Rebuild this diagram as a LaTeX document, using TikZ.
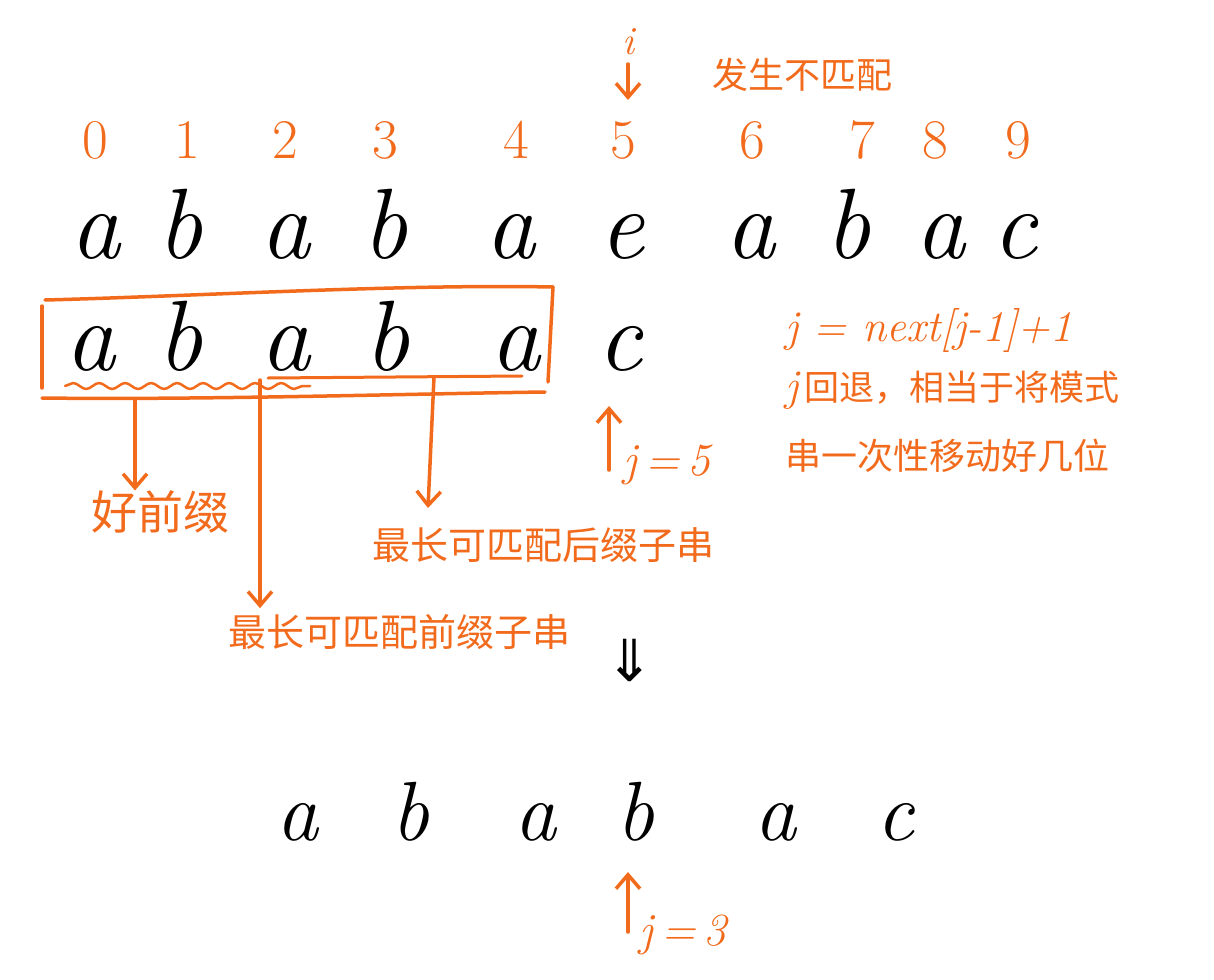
\documentclass[tikz,border=0pt]{standalone}
\usepackage{fontspec}
\newfontfamily\cjk{Noto Sans CJK SC}
\newfontfamily\dejavu{DejaVu Sans}
\usetikzlibrary{arrows.meta,decorations.pathmorphing,calc}
\definecolor{hand}{HTML}{F26A1B}
\begin{document}
\begin{tikzpicture}[x=1pt,y=-1pt,
  letter/.style={font=\fontsize{100}{100}\selectfont\itshape, anchor=base, inner sep=0pt},
  smallletter/.style={font=\fontsize{84}{84}\selectfont\itshape, anchor=base, inner sep=0pt},
  digit/.style={text=hand, font=\fontsize{56}{56}\selectfont, anchor=base, inner sep=0pt},
  note/.style={text=hand, font=\cjk\fontsize{38}{40}\selectfont, inner sep=0pt},
  mathnote/.style={text=hand, font=\fontsize{46}{46}\selectfont\itshape, inner sep=0pt},
  pen/.style={draw=hand, line width=3.5pt, line cap=round, line join=round},
  penarrow/.style={pen, -{Straight Barb[length=14pt,width=24pt,line width=3.5pt]}}]
\useasboundingbox (0,0) rectangle (1214,979);
% pointer i
\node[mathnote, font=\fontsize{40}{40}\selectfont\itshape] (iname) at (628,42) {i};
\coordinate (itip) at (628,100);
\coordinate (istart) at (628,64);
\draw[penarrow] (istart) -- (itip);
\node[note, font=\cjk\fontsize{36}{38}\selectfont, anchor=west] (mismatch) at (712,75) {发生不匹配};
% indices
\foreach \n/\x in {0/95,1/187,2/285,3/385,4/516,5/623,6/752,7/862,8/935,9/1018}
  \node[digit] (d\n) at (\x,158) {\n};
% text string
\foreach \n/\x/\c in {0/95/a,1/180/b,2/285/a,3/385/b,4/510/a,5/622/e,6/750/a,7/848/b,8/940/a,9/1015/c}
  \node[letter] (t\n) at (\x,258) {\c};
% pattern
\foreach \n/\x/\c in {0/90/a,1/180/b,2/285/a,3/387/b,4/515/a,5/620/c}
  \node[letter] (p\n) at (\x,370) {\c};
% box around good prefix
\coordinate (bxtl) at (45,300);
\coordinate (bxtr) at (553,287);
\coordinate (bxbr) at (548,382);
\coordinate (bxbl) at (42,398);
\coordinate (bxbe) at (545,392);
\coordinate (bxlt) at (42,306);
\coordinate (bxlb) at (42,388);
\draw[pen] (bxtl) .. controls (200,296) and (400,284) .. (bxtr);
\draw[pen] (bxtr) -- (bxbr);
\draw[pen] (bxbl) .. controls (200,400) and (400,394) .. (bxbe);
\draw[pen] (bxlt) -- (bxlb);
% underlines
\coordinate (wavyL) at (65,386);
\coordinate (wavyR) at (310,386);
\draw[pen, line width=2.5pt, decorate, decoration={snake, amplitude=3pt, segment length=26pt}] (wavyL) -- (wavyR);
\coordinate (lineL) at (268,378);
\coordinate (lineR) at (522,376);
\draw[pen, line width=3pt] (lineL) -- (lineR);
% labels
\node[note, font=\cjk\fontsize{46}{48}\selectfont] (goodpre) at (160,512) {好前缀};
\node[note, anchor=west] (longsuf) at (372,545) {最长可匹配后缀子串};
\node[note, anchor=west] (longpre) at (228,632) {最长可匹配前缀子串};
\coordinate (a1s) at (135,400);
\coordinate (a2s) at (260,380);
\coordinate (a3s) at (434,377);
\coordinate (a3e) at (428,508);
\draw[penarrow] (a1s) -- (a1s |- goodpre.north);
\draw[penarrow] (a2s) -- ($(a2s |- longpre.north)+(0,-6)$);
\draw[penarrow] (a3s) -- (a3e);
% j = 5
\coordinate (j5s) at (609,470);
\coordinate (j5e) at (609,406);
\draw[penarrow] (j5s) -- (j5e);
\node[mathnote] (j5) at (667,465) {j\,=\,5};
% formula and explanation
\node[mathnote, font=\fontsize{44}{44}\selectfont\itshape, anchor=west] (formula) at (785,330) {j = next[j-1]+1};
\node[note, font=\cjk\fontsize{35}{37}\selectfont, anchor=west] (expl1) at (785,390) {{\normalfont\fontsize{44}{44}\selectfont\itshape j}\,回退，相当于将模式};
\node[note, font=\cjk\fontsize{36}{38}\selectfont, anchor=west] (expl2) at (785,456) {串一次性移动好几位};
% down arrow
\node[font=\dejavu\fontsize{58}{58}\selectfont, inner sep=0pt] (darrow) at (630,660) {⇓};
% shifted pattern
\foreach \n/\x/\c in {0/297/a,1/410/b,2/535/a,3/635/b,4/775/a,5/895/c}
  \node[smallletter] (b\n) at (\x,840) {\c};
% j = 3
\coordinate (j3s) at (628,932);
\coordinate (j3e) at (628,872);
\draw[penarrow] (j3s) -- (j3e);
\node[mathnote] (j3) at (683,935) {j\,=\,3};
\end{tikzpicture}
\end{document}
